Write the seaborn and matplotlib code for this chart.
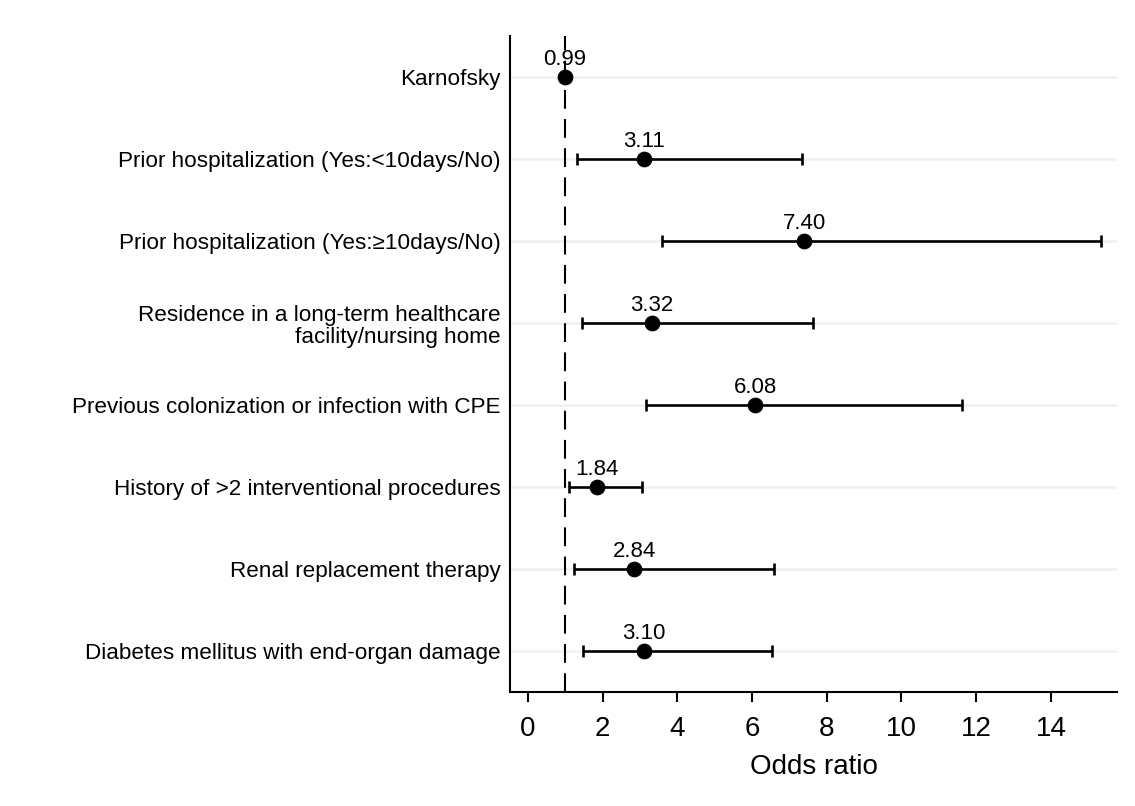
import matplotlib
matplotlib.use("Agg")
import matplotlib.pyplot as plt
import seaborn as sns
import pandas as pd
import numpy as np

labels = [
    "Karnofsky",
    "Prior hospitalization (Yes:<10days/No)",
    "Prior hospitalization (Yes:\u226510days/No)",
    "Residence in a long-term healthcare\nfacility/nursing home",
    "Previous colonization or infection with CPE",
    "History of >2 interventional procedures",
    "Renal replacement therapy",
    "Diabetes mellitus with end-organ damage",
]
odds = [0.99, 3.11, 7.40, 3.32, 6.08, 1.84, 2.84, 3.10]
ci_low = [0.98, 1.32, 3.58, 1.44, 3.16, 1.11, 1.22, 1.47]
ci_high = [1.00, 7.35, 15.35, 7.63, 11.62, 3.06, 6.60, 6.54]
xticks = [0, 2, 4, 6, 8, 10, 12, 14]

df = pd.DataFrame({"label": labels, "odds": odds, "lo": ci_low, "hi": ci_high})
df["pos"] = np.arange(len(df))

sns.set_theme(style="white")
plt.rcParams["font.family"] = ["Liberation Sans", "DejaVu Sans"]
plt.rcParams["text.color"] = "black"
plt.rcParams["axes.labelcolor"] = "black"
plt.rcParams["xtick.color"] = "black"
plt.rcParams["ytick.color"] = "black"

fig = plt.figure(figsize=(11.35, 8.06), dpi=100)
ax = fig.add_axes([510/1135, 1-692/806, (1117-510)/1135, (692-36)/806])

for p in df["pos"]:
    ax.axhline(p, color="#eaf2f3", lw=1.8, zorder=0)

ax.axvline(1, color="black", lw=1.5, ls=(0, (9, 5)), zorder=1)

ax.errorbar(df["odds"], df["pos"],
            xerr=[df["odds"] - df["lo"], df["hi"] - df["odds"]],
            fmt="none", ecolor="black", elinewidth=1.9, capsize=4.5,
            capthick=1.9, zorder=2)
sns.scatterplot(data=df, x="odds", y="pos", ax=ax, color="black", s=110,
                edgecolor="black", zorder=3, legend=False)

for _, r in df.iterrows():
    ax.annotate(f"{r['odds']:.2f}", (r["odds"], r["pos"]), xytext=(0, 5),
                textcoords="offset points", ha="center", va="bottom",
                fontsize=16, color="black")

ax.set_ylim(len(df) - 0.5, -0.5)
ax.set_xlim(-0.48, 15.77)
ax.set_yticks(df["pos"])
ax.set_yticklabels(df["label"], fontsize=16.2, linespacing=1.12)
ax.set_xticks(xticks)
ax.set_xticklabels([str(t) for t in xticks], fontsize=20)
ax.set_xlabel("Odds ratio", fontsize=20, labelpad=9)
ax.set_ylabel("")

ax.tick_params(axis="y", length=0, pad=7)
ax.tick_params(axis="x", length=7, width=1.5, pad=10, color="black", bottom=True)
for s in ["top", "right"]:
    ax.spines[s].set_visible(False)
for s in ["left", "bottom"]:
    ax.spines[s].set_color("black")
    ax.spines[s].set_linewidth(1.5)

fig.savefig("out.png", dpi=100, facecolor="white")
